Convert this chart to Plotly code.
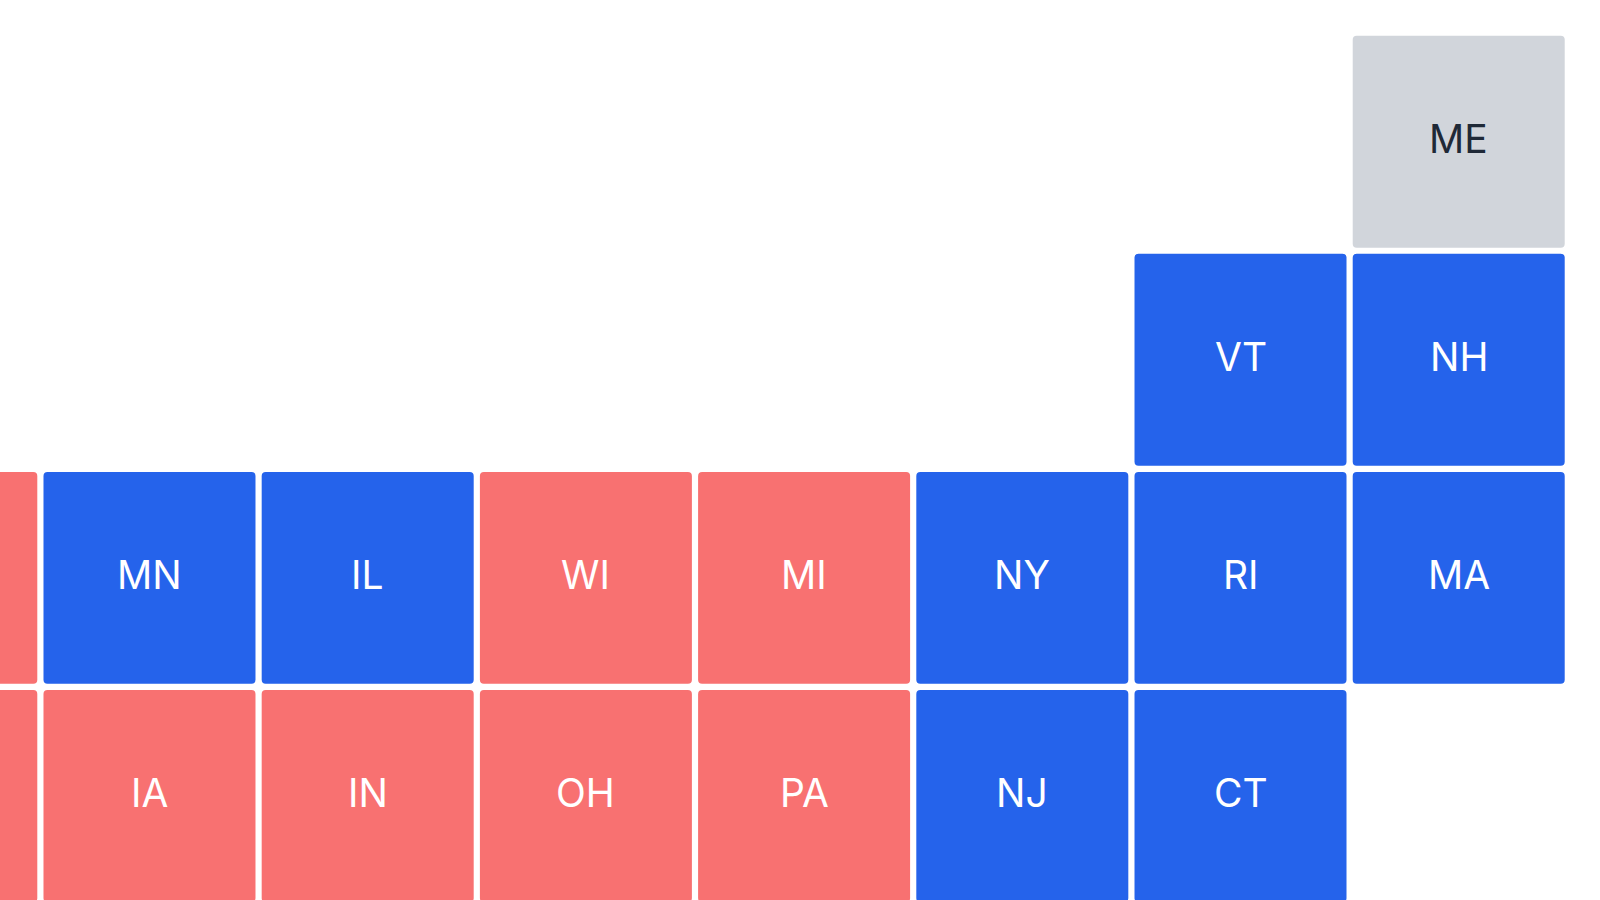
import plotly.graph_objects as go

# Tile grid data: state, grid column, grid row, category
states = ["ME", "VT", "NH", "ND", "MN", "IL", "WI", "MI", "NY", "RI", "MA",
          "SD", "IA", "IN", "OH", "PA", "NJ", "CT"]
columns = [7, 6, 7, 0, 1, 2, 3, 4, 5, 6, 7, 0, 1, 2, 3, 4, 5, 6]
rows = [0, 1, 1, 2, 2, 2, 2, 2, 2, 2, 2, 3, 3, 3, 3, 3, 3, 3]
parties = ["split", "dem", "dem", "rep", "dem", "dem", "rep", "rep", "dem", "dem", "dem",
           "rep", "rep", "rep", "rep", "rep", "dem", "dem"]

FILL = {"dem": "#2563EB", "rep": "#F87171", "split": "#D1D5DB"}
INK = {"dem": "#FFFFFF", "rep": "#FFFFFF", "split": "#1F2937"}
TILE = 212 / 218.2

fig = go.Figure()
for party in ["dem", "rep", "split"]:
    idx = [i for i, p in enumerate(parties) if p == party]
    fig.add_trace(go.Bar(
        x=[columns[i] for i in idx],
        y=[TILE] * len(idx),
        base=[rows[i] - TILE / 2 for i in idx],
        width=TILE,
        marker=dict(color=FILL[party], cornerradius=4, line=dict(width=0)),
        name=party,
        customdata=[states[i] for i in idx],
        hovertemplate="%{customdata}<extra></extra>",
    ))

for s, c, r, p in zip(states, columns, rows, parties):
    if c == 0:
        continue  # its label lies beyond the left edge of the view
    fig.add_annotation(x=c, y=r, text=s, showarrow=False, xref="x", yref="y",
                       yshift=3.5, font=dict(family="Inter", size=39, color=INK[p]))

fig.update_layout(
    width=1600, height=900, margin=dict(l=0, r=0, t=0, b=0),
    paper_bgcolor="#FFFFFF", plot_bgcolor="#FFFFFF",
    barmode="overlay", showlegend=False,
    xaxis=dict(range=[0.3149, 7.6475], visible=False, fixedrange=True),
    yaxis=dict(range=[3.4769, -0.6497], visible=False, fixedrange=True),
)
fig.write_html("out.html", config={"displayModeBar": False}, default_width=1600, default_height=900,
               post_script="document.body.style.margin='0';")
